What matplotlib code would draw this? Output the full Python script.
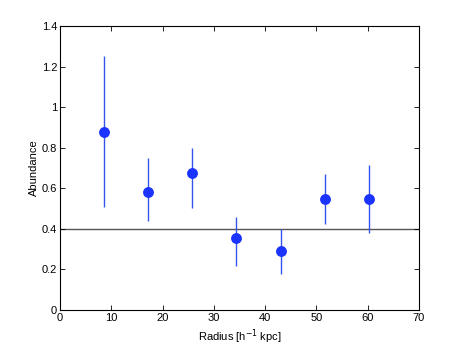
import matplotlib
matplotlib.use("Agg")
import matplotlib.pyplot as plt

radius = [8.6, 17.2, 25.8, 34.4, 43.0, 51.6, 60.2]
abundance = [0.876, 0.584, 0.676, 0.354, 0.293, 0.548, 0.548]
err_upper = [1.251, 0.750, 0.801, 0.457, 0.400, 0.671, 0.714]
err_lower = [0.507, 0.441, 0.504, 0.219, 0.178, 0.425, 0.382]
ref_level = 0.4
xticks = [0, 10, 20, 30, 40, 50, 60, 70]
yticks = [0, 0.2, 0.4, 0.6, 0.8, 1.0, 1.2, 1.4]
ytick_labels = ["0", "0.2", "0.4", "0.6", "0.8", "1", "1.2", "1.4"]

plt.rcParams['font.family'] = ['Liberation Sans', 'DejaVu Sans']
fig = plt.figure(figsize=(4.63, 3.49), dpi=100)
ax = fig.add_axes([60/463, 1 - 310/349, 359/463, 284/349])

yerr = [[a - l for a, l in zip(abundance, err_lower)],
        [u - a for a, u in zip(abundance, err_upper)]]
ax.axhline(ref_level, color='#555555', lw=1.0, zorder=1)
ax.errorbar(radius, abundance, yerr=yerr, fmt='o', color='#1a33ff',
            ecolor='#3355ee', elinewidth=1.0, capsize=0, markersize=6.8,
            zorder=3)

ax.set_xlim(0, 70)
ax.set_ylim(0, 1.4)
ax.set_xticks(xticks)
ax.set_yticks(yticks)
ax.set_yticklabels(ytick_labels)
ax.tick_params(direction='in', length=3.5, width=0.6, labelsize=8,
               top=True, right=True, pad=2)
for s in ax.spines.values():
    s.set_linewidth(0.8)
ax.set_xlabel(r'Radius [h$^{-1}$ kpc]', fontsize=8, labelpad=3)
ax.set_ylabel('Abundance', fontsize=8, labelpad=2)

fig.savefig('out.png', dpi=100)
